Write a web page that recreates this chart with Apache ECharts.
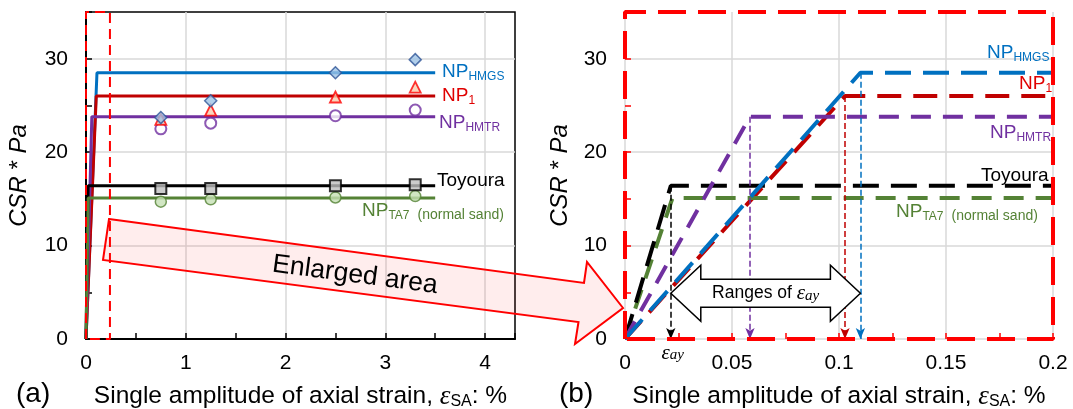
<!DOCTYPE html>
<html><head><meta charset="utf-8">
<script src="https://cdn.jsdelivr.net/npm/echarts@6/dist/echarts.min.js"></script>
<style>html,body{margin:0;padding:0;background:#fff}#c{width:1073px;height:409px}</style>
</head><body><div id="c"></div>
<script>
// ---------- data ----------
const samples = ['NP_HMGS', 'NP_1', 'NP_HMTR', 'Toyoura', 'NP_TA7'];
const yieldStrain = [0.110, 0.1028, 0.0584, 0.0214, 0.0222];   // ε_ay (%)
const csrPa = [28.5, 26.0, 23.8, 16.4, 15.1];                   // plateau CSR*Pa
const showYieldArrow = [true, true, true, true, false];
const plateauEnd = 3.5;
const testStrain = [0.75, 1.25, 2.5, 3.3];
const hmgsPoints = [23.7, 25.5, 28.5, 29.9];
const np1Points = [23.5, 24.5, 25.9, 26.95];
const hmtrPoints = [22.5, 23.1, 23.9, 24.5];
const toyouraPoints = [16.1, 16.1, 16.4, 16.5];
const ta7Points = [14.7, 14.95, 15.15, 15.3];
const xTicksA = [0, 1, 2, 3, 4];
const xTicksB = [0, 0.05, 0.1, 0.15, 0.2];
const yTicks = [0, 10, 20, 30];
const enlargedExtentA = 0.24;
const rangeArrowCSR = 4.9;

// ---------- styling ----------
const FONT = 'Liberation Sans, Arial, sans-serif';
const SERIF = 'Liberation Serif, Times New Roman, serif';
const colors = ['#0070C0', '#C00000', '#7030A0', '#000000', '#548235'];
const labelColors = ['#0070C0', '#E00000', '#7030A0', '#000000', '#548235'];
const dashes = [[26, 12], [24, 12], [20, 12], [26, 12], [20, 12]];
const zOrderB = [4.5, 3, 4, 3.5, 3.2];
const GRIDC = ['#D9D9D9', 'rgba(0,0,0,0)'];

function fmt(list) {
  return v => { const t = list.find(t => Math.abs(t - v) < 1e-9); return t === undefined ? '' : String(t); };
}
const xNameRich = {
  e: { fontFamily: SERIF, fontStyle: 'italic', fontSize: 27, lineHeight: 27, color: '#000' },
  s: { fontFamily: FONT, fontSize: 16, lineHeight: 17, verticalAlign: 'bottom', color: '#000' }
};
function xAxisCfg(grid, max, interval, ticks, tickColor, showLine) {
  return {
    type: 'value', gridIndex: grid, min: 0, max: max, interval: interval,
    name: 'Single amplitude of axial strain, {e|ε}{s|SA}: %',
    nameLocation: 'middle', nameGap: 44,
    nameTextStyle: { fontFamily: FONT, fontSize: 24.5, color: '#000', lineHeight: 27, rich: xNameRich },
    axisLine: { show: showLine, onZero: false, lineStyle: { color: '#000', width: 2 } },
    axisTick: { show: true, inside: true, length: 6, lineStyle: { color: tickColor, width: 1.5 } },
    axisLabel: { fontFamily: FONT, fontSize: 21, color: '#000', margin: 14, formatter: fmt(ticks), hideOverlap: false },
    splitLine: { show: true, lineStyle: { color: GRIDC, width: 1.5 } }
  };
}
function yAxisCfg(grid, tickColor, showLine, gap) {
  return {
    type: 'value', gridIndex: grid, min: 0, max: 35, interval: 5,
    name: '{i|CSR} * {i|Pa}', nameLocation: 'middle', nameGap: gap, nameRotate: 90,
    nameTextStyle: { fontFamily: FONT, fontSize: 24, color: '#000', lineHeight: 26,
      rich: { i: { fontFamily: FONT, fontStyle: 'italic', fontSize: 24, color: '#000' } } },
    axisLine: { show: showLine, onZero: false, lineStyle: { color: '#000', width: 2 } },
    axisTick: { show: true, inside: true, length: 6, lineStyle: { color: tickColor, width: 1.5 } },
    axisLabel: { fontFamily: FONT, fontSize: 21, color: '#000', margin: 18, formatter: fmt(yTicks), hideOverlap: false },
    splitLine: { show: true, lineStyle: { color: GRIDC, width: 1.5 } }
  };
}

const series = [];
// enlarged-area box in (a)
series.push({ type: 'line', xAxisIndex: 0, yAxisIndex: 0, symbol: 'none', clip: false, z: 5,
  data: [[0, 0], [0, 35], [enlargedExtentA, 35], [enlargedExtentA, 0], [0, 0]],
  lineStyle: { color: '#FF0000', width: 2, type: [10, 6] } });

samples.forEach((s, i) => {
  const d = [[0, 0], [yieldStrain[i], csrPa[i]], [plateauEnd, csrPa[i]]];
  series.push({ type: 'line', name: s + ' (a)', xAxisIndex: 0, yAxisIndex: 0, symbol: 'none', z: 3,
    data: d, lineStyle: { color: colors[i], width: 3 } });
  const sb = { type: 'line', name: s + ' (b)', xAxisIndex: 1, yAxisIndex: 1, symbol: 'none', z: zOrderB[i],
    data: d, lineStyle: { color: colors[i], width: 4, type: dashes[i] } };
  if (showYieldArrow[i]) {
    sb.markLine = { silent: true, symbol: ['none', 'arrow'], symbolSize: [7, 11], label: { show: false },
      lineStyle: { color: colors[i], width: 1.5, type: [6, 3] }, animation: false,
      data: [[{ coord: [yieldStrain[i], csrPa[i]] }, { coord: [yieldStrain[i], 0] }]] };
  }
  series.push(sb);
});
function pts(arr) { return testStrain.map((x, k) => [x, arr[k]]); }
series.push({ type: 'scatter', xAxisIndex: 0, yAxisIndex: 0, z: 6, symbol: 'circle', symbolSize: 11,
  data: pts(hmtrPoints), itemStyle: { color: '#FFFFFF', borderColor: '#7030A0', borderWidth: 2 } });
series.push({ type: 'scatter', xAxisIndex: 0, yAxisIndex: 0, z: 6, symbol: 'triangle', symbolSize: 11,
  data: pts(np1Points), itemStyle: { color: '#F8CBAD', borderColor: '#FF0000', borderWidth: 1.8 } });
series.push({ type: 'scatter', xAxisIndex: 0, yAxisIndex: 0, z: 6, symbol: 'diamond', symbolSize: 12,
  data: pts(hmgsPoints), itemStyle: { color: '#9DC3E6', borderColor: '#2F5597', borderWidth: 1.5 } });
series.push({ type: 'scatter', xAxisIndex: 0, yAxisIndex: 0, z: 6, symbol: 'circle', symbolSize: 11,
  data: pts(ta7Points), itemStyle: { color: '#C5E0B4', borderColor: '#548235', borderWidth: 1.5 } });
series.push({ type: 'scatter', xAxisIndex: 0, yAxisIndex: 0, z: 6, symbol: 'rect', symbolSize: 11,
  data: pts(toyouraPoints), itemStyle: { color: '#BFBFBF', borderColor: '#000000', borderWidth: 2 } });
// enlarged view frame (b)
series.push({ type: 'line', xAxisIndex: 1, yAxisIndex: 1, symbol: 'none', clip: false, z: 8,
  data: [[0, 0], [0, 35], [0.2, 35], [0.2, 0], [0, 0]],
  lineStyle: { color: '#FF0000', width: 4, type: [28, 12] } });

const chart = echarts.init(document.getElementById('c'), null, { renderer: 'canvas' });
chart.setOption({
  animation: false,
  backgroundColor: '#fff',
  grid: [
    { left: 86, right: 558, top: 12, bottom: 70, show: true, borderColor: '#000', borderWidth: 1.5, outerBoundsMode: 'none', containLabel: false },
    { left: 625, right: 20, top: 12, bottom: 70, show: false, outerBoundsMode: 'none', containLabel: false }
  ],
  xAxis: [xAxisCfg(0, 4.3, 0.5, xTicksA, '#000', true), xAxisCfg(1, 0.2, 0.025, xTicksB, '#FF0000', false)],
  yAxis: [yAxisCfg(0, '#000', true, 54), yAxisCfg(1, '#FF0000', false, 52)],
  series: series
});

// ---------- annotations ----------
function npLabel(id, x, y, main, sub, color, extra) {
  let text = '{m|' + main + '}' + (sub ? '{s|' + sub + '}' : '') + (extra ? '{g| }{n|' + extra + '}' : '');
  return { type: 'text', id: id, x: x, y: y, z: 100, style: {
    text: text, align: 'left', verticalAlign: 'middle', fill: color,
    rich: {
      m: { fontFamily: FONT, fontSize: 19, lineHeight: 22, fill: color },
      s: { fontFamily: FONT, fontSize: 12, lineHeight: 12, verticalAlign: 'bottom', fill: color },
      g: { fontFamily: FONT, fontSize: 14, lineHeight: 14, width: 8 },
      n: { fontFamily: FONT, fontSize: 14, lineHeight: 14, verticalAlign: 'bottom', fill: color }
    } } };
}
const mainTxt = ['NP', 'NP', 'NP', 'Toyoura', 'NP'];
const subTxt = ['HMGS', '1', 'HMTR', '', 'TA7'];
const extraTxt = ['', '', '', '', '(normal sand)'];
const posA = [[442, 72], [442, 96], [439, 123], [437, 181], [362, 211]];
const posB = [[987, 53], [1019, 84], [990, 133], [981, 176], [896, 212]];

const g = [];
samples.forEach((s, i) => {
  g.push(npLabel('la' + i, posA[i][0], posA[i][1], mainTxt[i], subTxt[i], labelColors[i], extraTxt[i]));
  g.push(npLabel('lb' + i, posB[i][0], posB[i][1], mainTxt[i], subTxt[i], labelColors[i], extraTxt[i]));
});
g.push({ type: 'text', id: 'pa', x: 16, y: 394, z: 100, style: { text: '(a)', font: '28px ' + FONT, fill: '#000', align: 'left', verticalAlign: 'middle' } });
g.push({ type: 'text', id: 'pb', x: 559, y: 394, z: 100, style: { text: '(b)', font: '28px ' + FONT, fill: '#000', align: 'left', verticalAlign: 'middle' } });

// big "Enlarged area" arrow
g.push({ type: 'polygon', id: 'bigArrow', z: 90, shape: { points: [
  [109, 219], [584, 283], [587, 262], [623, 308], [575, 344], [578.5, 322], [103, 260]] },
  style: { fill: 'rgba(255,0,0,0.07)', stroke: '#FF0000', lineWidth: 2, lineJoin: 'miter' } });
g.push({ type: 'text', id: 'bigArrowText', x: 355, y: 275, rotation: -0.131, z: 91,
  style: { text: 'Enlarged area', font: '26.5px ' + FONT, fill: '#000', align: 'center', verticalAlign: 'middle' } });

// ranges of ε_ay double arrow (anchored on the data)
const xl = Math.min.apply(null, yieldStrain), xr = Math.max.apply(null, yieldStrain);
const L = chart.convertToPixel({ gridIndex: 1 }, [xl, rangeArrowCSR]);
const R = chart.convertToPixel({ gridIndex: 1 }, [xr, rangeArrowCSR]);
const hl = 30, hh = 28, sh = 14, yc = L[1];
g.push({ type: 'polygon', id: 'rangeArrow', z: 95, shape: { points: [
  [L[0], yc], [L[0] + hl, yc - hh], [L[0] + hl, yc - sh], [R[0] - hl, yc - sh], [R[0] - hl, yc - hh],
  [R[0], yc], [R[0] - hl, yc + hh], [R[0] - hl, yc + sh], [L[0] + hl, yc + sh], [L[0] + hl, yc + hh]] },
  style: { fill: '#FFFFFF', stroke: '#000', lineWidth: 1.5, lineJoin: 'miter' } });
g.push({ type: 'text', id: 'rangeText', x: (L[0] + R[0]) / 2, y: yc, z: 96, style: {
  text: '{t|Ranges of }{e|ε}{s|ay}', align: 'center', verticalAlign: 'middle', fill: '#000',
  rich: { t: { fontFamily: FONT, fontSize: 17.5, lineHeight: 20, fill: '#000' },
          e: { fontFamily: SERIF, fontStyle: 'italic', fontSize: 21, lineHeight: 20, fill: '#000' },
          s: { fontFamily: SERIF, fontStyle: 'italic', fontSize: 15, lineHeight: 13, verticalAlign: 'bottom', fill: '#000' } } } });
const E = chart.convertToPixel({ gridIndex: 1 }, [yieldStrain[3], 0]);
g.push({ type: 'text', id: 'eayText', x: E[0] + 2, y: E[1] + 14, z: 96, style: {
  text: '{e|ε}{s|ay}', align: 'center', verticalAlign: 'middle', fill: '#000',
  rich: { e: { fontFamily: SERIF, fontStyle: 'italic', fontSize: 21, lineHeight: 20, fill: '#000' },
          s: { fontFamily: SERIF, fontStyle: 'italic', fontSize: 15, lineHeight: 13, verticalAlign: 'bottom', fill: '#000' } } } });

chart.setOption({ graphic: g });
</script>
</body></html>
